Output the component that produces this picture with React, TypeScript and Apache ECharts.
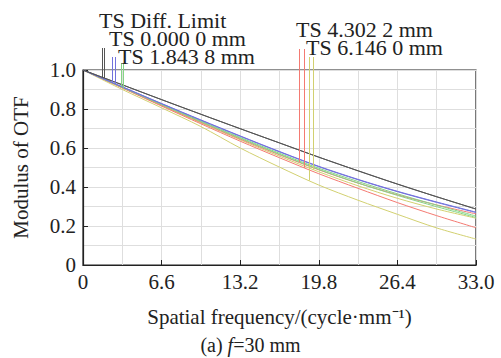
import React, { useEffect, useRef } from "react";
import * as echarts from "echarts";

// spatial frequencies (cycle/mm)
const freqs = [0, 3.3, 6.6, 9.9, 13.2, 16.5, 19.8, 23.1, 26.4, 29.7, 33];
// Modulus of OTF
const diffT = [1.0, 0.924, 0.848, 0.773, 0.699, 0.626, 0.553, 0.483, 0.415, 0.35, 0.287];
const diffS = [1.0, 0.924, 0.848, 0.773, 0.699, 0.626, 0.553, 0.483, 0.415, 0.35, 0.287];
const f0T = [1.0, 0.914, 0.828, 0.744, 0.662, 0.582, 0.506, 0.439, 0.378, 0.323, 0.271];
const f0S = [1.0, 0.913, 0.827, 0.742, 0.66, 0.58, 0.504, 0.437, 0.376, 0.321, 0.269];
const f1T = [1.0, 0.912, 0.824, 0.738, 0.654, 0.573, 0.496, 0.428, 0.365, 0.307, 0.251];
const f1S = [1.0, 0.911, 0.822, 0.735, 0.65, 0.568, 0.49, 0.42, 0.357, 0.299, 0.244];
const f2T = [1.0, 0.91, 0.82, 0.732, 0.646, 0.565, 0.488, 0.42, 0.36, 0.308, 0.262];
const f2S = [1.0, 0.908, 0.815, 0.724, 0.635, 0.55, 0.468, 0.393, 0.32, 0.253, 0.191];
const f3T = [1.0, 0.9, 0.806, 0.71, 0.6, 0.502, 0.41, 0.332, 0.26, 0.19, 0.133];
const f3S = [1.0, 0.909, 0.818, 0.729, 0.642, 0.558, 0.478, 0.406, 0.342, 0.287, 0.24];

// legend labels and the frequencies of their pointer lines
const legendLabels = ["TS Diff. Limit", "TS 0.000 0 mm", "TS 1.843 8 mm", "TS 4.302 2 mm", "TS 6.146 0 mm"];
const pointerX = [
  [1.57, 1.79],
  [2.41, 2.69],
  [3.17, 3.38],
  [18.14, 18.58],
  [18.98, 19.34],
];

const xTicks = ["0", "6.6", "13.2", "19.8", "26.4", "33.0"];
const yTicks = ["0", "0.2", "0.4", "0.6", "0.8", "1.0"];

const colors = ["#555555", "#7272dc", "#86d486", "#f47a72", "#d2d070"];
const groups = [
  [diffT, diffS],
  [f0T, f0S],
  [f1T, f1S],
  [f2T, f2S],
  [f3T, f3S],
];
// label layout (style): vertical centres of the labels and tops of the pointer lines
const labelMid = [20, 38, 56, 29, 47];
const pointerTop = [48, 57, 63, 49, 57];

const FONT = "'Liberation Serif', 'Times New Roman', serif";

function interp(vals: number[], x: number) {
  for (let i = 0; i < freqs.length - 1; i++) {
    if (x >= freqs[i] && x <= freqs[i + 1]) {
      const t = (x - freqs[i]) / (freqs[i + 1] - freqs[i]);
      return vals[i] + t * (vals[i + 1] - vals[i]);
    }
  }
  return vals[vals.length - 1];
}

export default function App() {
  const ref = useRef<HTMLDivElement>(null);
  useEffect(() => {
    if (!ref.current) return;
    const chart = echarts.init(ref.current, undefined, { renderer: "svg" });
    const series: any[] = [];
    groups.forEach((g, gi) => {
      g.forEach((vals, k) => {
        series.push({
          type: "line",
          name: legendLabels[gi] + (k === 0 ? " T" : " S"),
          data: freqs.map((f, i) => [f, vals[i]]),
          smooth: 0.3,
          showSymbol: false,
          symbol: "none",
          lineStyle: { color: colors[gi], width: 1 },
          z: 10 - gi,
        });
      });
    });
    chart.setOption({
      animation: false,
      backgroundColor: "#fff",
      grid: {
        left: 83,
        right: 25,
        top: 70,
        bottom: 93,
        show: true,
        borderColor: "#222",
        borderWidth: 1.2,
        backgroundColor: "transparent",
      },
      xAxis: {
        type: "value",
        min: 0,
        max: 33,
        interval: 6.6,
        name: "Spatial frequency/(cycle·mm⁻¹)",
        nameLocation: "middle",
        nameGap: 41,
        nameTextStyle: { fontFamily: FONT, fontSize: 21, color: "#222" },
        axisLine: { show: true, lineStyle: { color: "#222", width: 1.2 } },
        axisTick: { show: true, inside: true, length: 5, lineStyle: { color: "#222" } },
        axisLabel: {
          fontFamily: FONT,
          fontSize: 21,
          color: "#222",
          margin: 6,
          formatter: (v: number) => xTicks[Math.round(v / 6.6)] ?? "",
        },
        splitLine: { show: true, lineStyle: { color: "#dedede", width: 1 } },
        minorTick: { show: false, splitNumber: 2 },
        minorSplitLine: { show: true, lineStyle: { color: "#dedede", width: 1 } },
      },
      yAxis: {
        type: "value",
        min: 0,
        max: 1,
        interval: 0.2,
        name: "Modulus of OTF",
        nameLocation: "middle",
        nameGap: 52,
        nameTextStyle: { fontFamily: FONT, fontSize: 21, color: "#222" },
        axisLine: { show: true, lineStyle: { color: "#222", width: 1.2 } },
        axisTick: { show: true, inside: true, length: 5, lineStyle: { color: "#222" } },
        axisLabel: {
          fontFamily: FONT,
          fontSize: 21,
          color: "#222",
          margin: 7,
          formatter: (v: number) => yTicks[Math.round(v / 0.2)] ?? "",
        },
        splitLine: { show: true, lineStyle: { color: "#dedede", width: 1 } },
        minorTick: { show: false, splitNumber: 2 },
        minorSplitLine: { show: true, lineStyle: { color: "#dedede", width: 1 } },
      },
      series,
    });

    const graphics: any[] = [];
    pointerX.forEach((xs, gi) => {
      xs.forEach((x, k) => {
        const v = interp(groups[gi][k], x);
        const p = chart.convertToPixel({ gridIndex: 0 }, [x, v]) as number[];
        graphics.push({
          type: "line",
          shape: { x1: Math.round(p[0]) + 0.5, y1: pointerTop[gi], x2: Math.round(p[0]) + 0.5, y2: p[1] },
          style: { stroke: colors[gi], lineWidth: 1 },
          z: 20,
        });
      });
      const p0 = chart.convertToPixel({ gridIndex: 0 }, [xs[0], 0]) as number[];
      graphics.push({
        type: "text",
        x: Math.round(p0[0]) - 3,
        y: labelMid[gi],
        style: {
          text: legendLabels[gi],
          fontFamily: FONT,
          fontSize: 22,
          lineHeight: 17,
          verticalAlign: "middle",
          align: "left",
          fill: "#222",
        },
        z: 30,
      });
    });
    graphics.push({
      type: "text",
      left: "center",
      top: 335,
      style: {
        text: "{n|(a) }{i|f}{n|=30 mm}",
        rich: {
          n: { fontFamily: FONT, fontSize: 20, fill: "#222" },
          i: { fontFamily: FONT, fontSize: 20, fontStyle: "italic", fill: "#222" },
        },
      },
    });
    chart.setOption({ graphic: graphics });

    return () => chart.dispose();
  }, []);
  return (
    <div
      ref={ref}
      style={{ position: "fixed", left: 0, top: 0, width: 501, height: 358, background: "#fff" }}
    />
  );
}
